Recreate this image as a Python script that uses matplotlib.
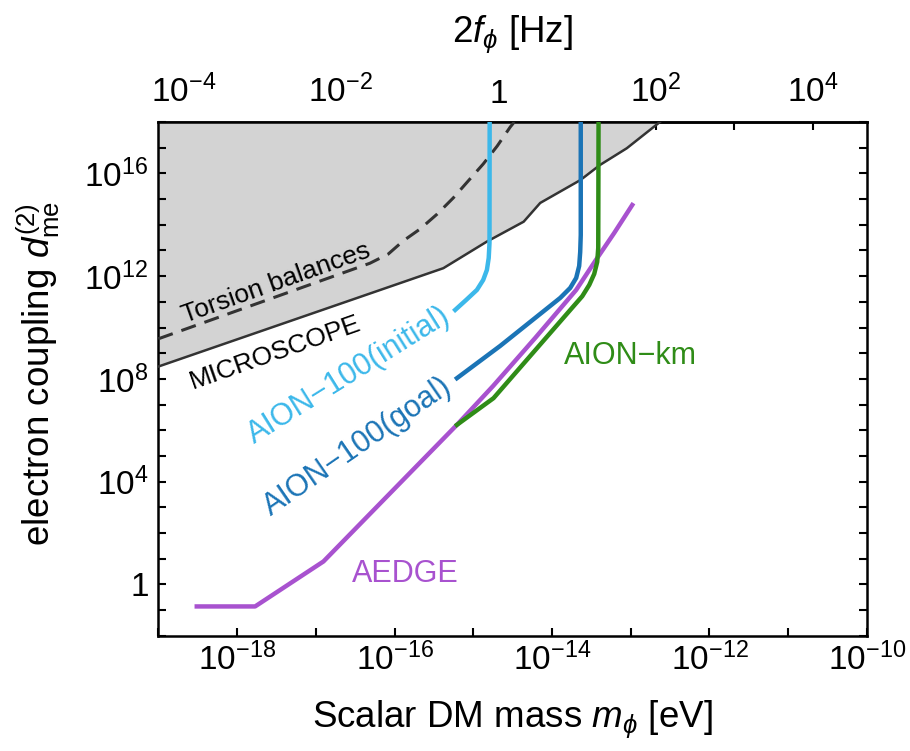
import numpy as np
import matplotlib.pyplot as plt
from matplotlib.ticker import FixedLocator, FuncFormatter, NullLocator

plt.rcParams['font.family'] = ['Liberation Sans', 'DejaVu Sans']
plt.rcParams['mathtext.fontset'] = 'custom'
plt.rcParams['mathtext.rm'] = 'Liberation Sans'
plt.rcParams['mathtext.it'] = 'Liberation Sans:italic'
plt.rcParams['mathtext.bf'] = 'Liberation Sans:bold'

# log10 values
microscope_logm = [-19.0, -15.38, -14.83, -14.36, -14.15, -13.64, -13.39, -13.05, -12.63]
microscope_logd = [8.48, 12.31, 13.34, 14.12, 14.85, 15.74, 16.33, 16.98, 18.0]

torsion_logm = [-19.0, -16.313, -16.08, -15.891, -15.675, -15.459, -15.255, -15.065,
                -14.874, -14.696, -14.531, -14.48]
torsion_logd = [9.56, 12.502, 12.86, 13.37, 13.837, 14.416, 15.043, 15.704,
                16.366, 17.066, 17.805, 18.0]

initial_logm = [-15.23, -15.09, -14.954, -14.874, -14.827, -14.804, -14.794, -14.792]
initial_logd = [10.685, 11.074, 11.463, 11.852, 12.241, 12.708, 13.292, 18.0]

goal_logm = [-15.208, -14.658, -14.15, -13.896, -13.769, -13.693, -13.655, -13.642,
             -13.635, -13.635]
goal_logd = [8.027, 9.284, 10.529, 11.152, 11.541, 11.93, 12.397, 12.942, 13.603, 18.0]

km_logm = [-15.208, -14.743, -14.15, -13.769, -13.616, -13.527, -13.464, -13.426,
           -13.413, -13.409]
km_logd = [6.21, 7.249, 9.339, 10.681, 11.218, 11.658, 12.086, 12.553, 13.097, 18.0]

aedge_logm = [-18.512, -17.771, -16.903, -15.208, -14.747, -14.213, -13.693, -13.451,
              -13.21, -12.981]
aedge_logd = [-0.86, -0.86, 0.891, 6.21, 7.728, 9.595, 11.463, 12.591, 13.681, 14.77]

c_init = '#3cb8ea'
c_goal = '#1b74b6'
c_km = '#2f8c17'
c_aedge = '#a852cf'

def p10(v):
    return 10.0 ** np.array(v)

fig = plt.figure(figsize=(9.1, 7.51), dpi=100)
ax = fig.add_axes([0.174, 0.1535, 0.7787, 0.684])
ax.set_xscale('log')
ax.set_yscale('log')
ax.set_xlim(1e-19, 1e-10)
ax.set_ylim(1e-2, 1e18)

ax.fill_between(p10(microscope_logm), p10(microscope_logd), 1e18, color='#d3d3d3', lw=0, zorder=1)
ax.plot(p10(microscope_logm), p10(microscope_logd), color='#333333', lw=1.8, zorder=3)
ax.plot(p10(torsion_logm), p10(torsion_logd), color='#333333', lw=2.2, dashes=(5, 3), zorder=3)

ax.plot(p10(initial_logm), p10(initial_logd), color=c_init, lw=3.2, zorder=4)
ax.plot(p10(goal_logm), p10(goal_logd), color=c_goal, lw=3.2, zorder=4)
ax.plot(p10(aedge_logm), p10(aedge_logd), color=c_aedge, lw=3.2, zorder=4)
ax.plot(p10(km_logm), p10(km_logd), color=c_km, lw=3.2, zorder=5)

# labels
ax.text(3.1e-18, 5.5e11, 'Torsion balances', rotation=19.6, fontsize=19,
        ha='center', va='center', rotation_mode='anchor')
ax.text(3.1e-18, 1.1e9, 'MICROSCOPE', rotation=19.4, fontsize=19,
        ha='center', va='center', rotation_mode='anchor')
ax.text(2.6e-17, 1.3e8, 'AION\u2212100(initial)', rotation=32, fontsize=22, color=c_init,
        ha='center', va='center', rotation_mode='anchor')
ax.text(3.35e-17, 2.2e5, 'AION\u2212100(goal)', rotation=34.6, fontsize=22, color=c_goal,
        ha='center', va='center', rotation_mode='anchor')
ax.text(9.9e-14, 7.9e8, 'AION\u2212km', fontsize=22, color=c_km, ha='center', va='center')
ax.text(1.36e-16, 2.6, 'AEDGE', fontsize=22, color=c_aedge, ha='center', va='center')

def pow_label(v, pos):
    e = int(round(np.log10(v)))
    if e == 0:
        return '$1$'
    return r'$10^{%d}$' % e

xt = [10.0 ** e for e in range(-19, -9)]
yt = [10.0 ** e for e in range(-2, 19)]
ax.xaxis.set_major_locator(FixedLocator(xt))
ax.yaxis.set_major_locator(FixedLocator(yt))
ax.xaxis.set_minor_locator(NullLocator())
ax.yaxis.set_minor_locator(NullLocator())
ax.xaxis.set_major_formatter(FuncFormatter(
    lambda v, p: pow_label(v, p) if int(round(np.log10(v))) % 2 == 0 and v > 1e-19 else ''))
ax.yaxis.set_major_formatter(FuncFormatter(
    lambda v, p: pow_label(v, p) if int(round(np.log10(v))) % 4 == 0 and 0.5 < v < 1e17 else ''))

ax.tick_params(which='both', direction='in', length=6, width=1.5, labelsize=24,
               top=False, right=True)
ax.tick_params(axis='x', pad=5)
ax.tick_params(axis='y', pad=7)
for s in ax.spines.values():
    s.set_linewidth(1.8)

# top axis: 2 f in Hz
k = 2.0 / 4.135667e-15
top = ax.secondary_xaxis('top', functions=(lambda m: m * k, lambda f: f / k))
top.xaxis.set_major_locator(FixedLocator([10.0 ** e for e in range(-4, 5)]))
top.xaxis.set_minor_locator(NullLocator())
top.xaxis.set_major_formatter(FuncFormatter(
    lambda v, p: pow_label(v, p) if int(round(np.log10(v))) % 2 == 0 else ''))
top.tick_params(direction='in', length=6, width=1.5, labelsize=24, pad=9)
top.spines['top'].set_linewidth(1.8)

fig.text(512 / 910, 1 - 727 / 751, r'Scalar DM mass $m_{\phi}$ [eV]', fontsize=26.5,
         ha='center', va='baseline')
fig.text(512 / 910, 1 - 42 / 751, r'$2f_{\phi}$ [Hz]', fontsize=26.5,
         ha='center', va='baseline')
fig.text(38 / 910, 1 - 373 / 751, r'electron coupling $d_{\mathrm{me}}^{(2)}$', fontsize=26.5,
         rotation=90, ha='center', va='center')

fig.savefig('out.png', dpi=100)
